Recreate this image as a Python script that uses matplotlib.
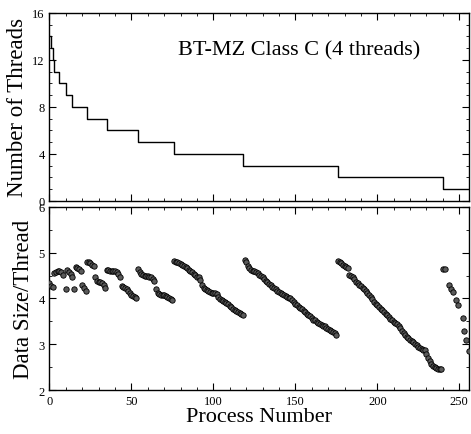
import matplotlib
matplotlib.use("Agg")
import matplotlib.pyplot as plt
from matplotlib.ticker import MultipleLocator

plt.rcParams['font.family'] = ['Liberation Serif', 'DejaVu Serif']

# threads per process (step plot), start index of each run
step_start = [0, 1, 2, 3, 6, 10, 14, 23, 35, 54, 76, 118, 176, 240]
step_threads = [14, 13, 12, 11, 10, 9, 8, 7, 6, 5, 4, 3, 2, 1]
n_procs = 256

# data size per thread
proc_early = [0, 1, 2, 3, 4, 5, 6, 7, 8, 10, 11, 12, 13, 14, 15,
              16, 17, 18, 19, 20, 21, 22, 23, 24, 25, 26, 27,
              28, 29, 30, 31, 32, 33, 34,
              35, 36, 37, 38, 39, 40, 41, 42, 43,
              44, 45, 46, 47, 48, 49, 50, 51, 52, 53,
              54, 55, 56, 57, 58, 59, 60, 61, 62, 63, 64,
              65, 66, 67, 68, 69, 70, 71, 72, 73, 74, 75]
size_early = [4.33, 4.28, 4.25, 4.55, 4.58, 4.60, 4.61, 4.57, 4.52, 4.20, 4.62, 4.58, 4.53, 4.48, 4.20,
              4.68, 4.67, 4.65, 4.61, 4.30, 4.24, 4.17, 4.80, 4.79, 4.77, 4.74, 4.72,
              4.47, 4.38, 4.36, 4.35, 4.33, 4.29, 4.24,
              4.62, 4.62, 4.61, 4.61, 4.60, 4.59, 4.57, 4.53, 4.48,
              4.27, 4.25, 4.23, 4.20, 4.16, 4.12, 4.08, 4.05, 4.03, 4.01,
              4.65, 4.58, 4.53, 4.51, 4.50, 4.50, 4.49, 4.48, 4.46, 4.43, 4.39,
              4.20, 4.12, 4.09, 4.08, 4.07, 4.07, 4.06, 4.04, 4.02, 3.99, 3.96]

proc_t4 = list(range(76, 119))
size_t4 = [4.81, 4.80, 4.79, 4.78, 4.76, 4.74, 4.71, 4.69, 4.66, 4.63,
           4.60, 4.57, 4.54, 4.51, 4.48, 4.46, 4.40, 4.30, 4.24, 4.21,
           4.19, 4.17, 4.15, 4.13, 4.12, 4.11, 4.09, 4.03, 3.98, 3.96,
           3.95, 3.93, 3.90, 3.87, 3.84, 3.81, 3.78, 3.75, 3.73, 3.71,
           3.69, 3.66, 3.63]

proc_t3 = list(range(119, 176))
size_t3 = [4.84, 4.80, 4.72, 4.66, 4.63, 4.61, 4.60, 4.58, 4.55, 4.52,
           4.50, 4.47, 4.43, 4.39, 4.35, 4.32, 4.29, 4.26, 4.23, 4.20,
           4.17, 4.14, 4.12, 4.10, 4.08, 4.06, 4.04, 4.02, 4.00, 3.97,
           3.93, 3.89, 3.85, 3.82, 3.79, 3.76, 3.73, 3.70, 3.67, 3.64,
           3.61, 3.57, 3.54, 3.52, 3.49, 3.47, 3.45, 3.43, 3.41, 3.39,
           3.36, 3.34, 3.32, 3.30, 3.27, 3.24, 3.21]

proc_t2 = list(range(176, 240))
size_t2 = [4.81, 4.79, 4.77, 4.74, 4.71, 4.69, 4.67, 4.52, 4.49, 4.46,
           4.42, 4.37, 4.33, 4.30, 4.27, 4.24, 4.20, 4.17, 4.13, 4.08,
           4.03, 3.98, 3.93, 3.89, 3.86, 3.82, 3.78, 3.75, 3.71, 3.67,
           3.64, 3.60, 3.56, 3.52, 3.49, 3.46, 3.44, 3.41, 3.36, 3.30,
           3.25, 3.20, 3.16, 3.13, 3.10, 3.07, 3.04, 3.01, 2.98, 2.94,
           2.91, 2.89, 2.88, 2.87, 2.78, 2.70, 2.63, 2.56, 2.52, 2.50,
           2.48, 2.47, 2.46, 2.46]

proc_t1 = [240, 241, 244, 245, 246, 248, 249, 252, 253, 254, 255.8]
size_t1 = [4.64, 4.64, 4.30, 4.20, 4.14, 3.96, 3.85, 3.57, 3.30, 3.09, 2.85]

fig = plt.figure(figsize=(4.71, 4.35), dpi=100)
ax1 = fig.add_axes([0.105, 0.536, 0.891, 0.432])
ax2 = fig.add_axes([0.105, 0.101, 0.891, 0.421])

# painel de cima: numero de threads
xs = step_start + [n_procs]
ys = step_threads + [step_threads[-1]]
ax1.step(xs, ys, where='post', color='black', lw=1.0)
ax1.set_xlim(0, 256)
ax1.set_ylim(0, 16)
ax1.set_yticks([0, 4, 8, 12, 16])
ax1.yaxis.set_minor_locator(MultipleLocator(1))
ax1.set_xticks([0, 50, 100, 150, 200, 250])
ax1.xaxis.set_minor_locator(MultipleLocator(10))
ax1.tick_params(labelbottom=False)
ax1.set_ylabel('Number of Threads', fontsize=16.5, labelpad=3)
ax1.text(78.5, 12.85, 'BT-MZ Class C (4 threads)', fontsize=16, va='center')

# painel de baixo: tamanho dos dados por thread
for p, s in [(proc_early, size_early), (proc_t4, size_t4), (proc_t3, size_t3),
             (proc_t2, size_t2), (proc_t1, size_t1)]:
    ax2.scatter(p, s, s=15, facecolor='#5a5a5a', edgecolor='black', lw=0.6, zorder=3)
ax2.set_xlim(0, 256)
ax2.set_ylim(2, 6)
ax2.set_yticks([2, 3, 4, 5, 6])
ax2.yaxis.set_minor_locator(MultipleLocator(0.5))
ax2.set_xticks([0, 50, 100, 150, 200, 250])
ax2.xaxis.set_minor_locator(MultipleLocator(10))
ax2.set_xlabel('Process Number', fontsize=16, labelpad=0)
ax2.set_ylabel('Data Size/Thread', fontsize=16.5, labelpad=3)

for ax in (ax1, ax2):
    ax.tick_params(which='both', direction='in', top=True, right=True, labelsize=9)
    ax.tick_params(which='major', length=5, width=0.8)
    ax.tick_params(which='minor', length=2.5, width=0.6)
    for sp in ax.spines.values():
        sp.set_linewidth(1.0)

fig.savefig('out.png', dpi=100)
